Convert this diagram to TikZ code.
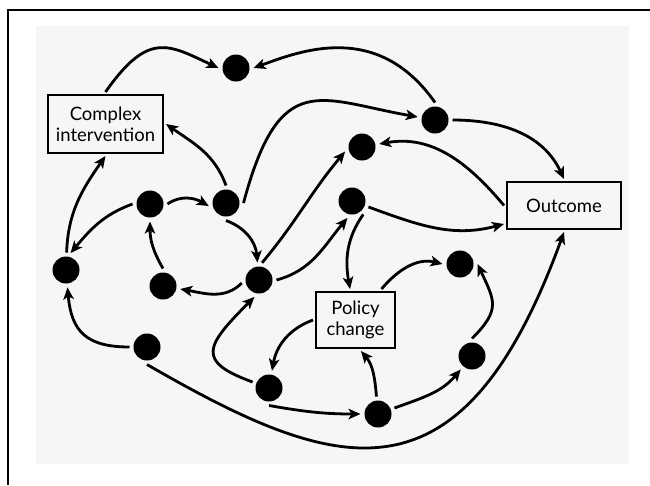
\documentclass[tikz,border=0pt]{standalone}
\usepackage{fontspec}
\setmainfont{Lato}
\usetikzlibrary{%
        arrows.meta
    }
\definecolor{canvas}{RGB}{246, 246, 246}
\tikzset{%
    dot/.style={%
        circle, fill=black, minimum size=27pt, inner sep=0pt, outer sep=4pt
    },
    box/.style={%
        draw=black, line width=2.8pt, fill=canvas, align=center,
        outer sep=3pt, font=\fontsize{18.5}{21}\selectfont
    },
    flow/.style={%
        line width=2.8pt, -{Stealth[length=12pt, width=10.5pt, inset=3pt]}
    }
}

\begin{document}
\begin{tikzpicture}[x=1pt, y=1pt]

    % Frame
    \useasboundingbox (0, 0) rectangle (650, -485);
    \fill[canvas] (36, -26) rectangle (629, -464);
    \draw[line width=2.5pt] (8, -485) -- (8, -10) -- (650, -10);

    % Boxes
    \node[box, minimum width=115pt, minimum height=58pt] (intervention)
        at (105.5, -124) {Complex\\intervention};
    \node[box, minimum width=114pt, minimum height=47pt] (outcome)
        at (564, -205.5) {Outcome};
    \node[box, minimum width=79pt, minimum height=56pt] (policy)
        at (355.5, -320) {Policy\\change};

    % Dots
    \node[dot] (top-dot) at (236, -68) {};
    \node[dot] (upper-dot) at (435, -120) {};
    \node[dot] (mid-dot) at (362, -147) {};
    \node[dot] (centre-dot) at (352, -201) {};
    \node[dot] (ring-nw) at (150, -204) {};
    \node[dot] (ring-ne) at (226, -203) {};
    \node[dot] (ring-sw) at (163, -286) {};
    \node[dot] (ring-se) at (259, -280) {};
    \node[dot] (left-dot) at (66, -270) {};
    \node[dot] (low-dot) at (147, -347) {};
    \node[dot] (p-top) at (460, -264) {};
    \node[dot] (p-right) at (472, -356) {};
    \node[dot] (p-left) at (269, -388) {};
    \node[dot] (p-base) at (378, -414) {};

    % Top arcs
    \draw[flow] (intervention.north)
        to [out=55, in=155, out distance=75pt, in distance=55pt]
        (top-dot.west);
    \draw[flow] (upper-dot.north)
        to [out=125, in=20, out distance=100pt, in distance=50pt]
        (top-dot.east);
    \draw[flow] (ring-ne.north) to [out=110, in=-35] (intervention.east);
    \draw[flow] (ring-ne.east)
        to [out=75, in=170, out distance=140pt, in distance=100pt]
        (upper-dot);

    % Towards the outcome
    \draw[flow] (upper-dot) to [out=0, in=115] (outcome.north);
    \draw[flow] (outcome.west) to [out=130, in=10] (mid-dot);
    \draw[flow] (centre-dot)
        to [out=-20, in=195] ([yshift=8pt] outcome.south west);
    \draw[flow] (low-dot.south)
        to [out=-30, in=-110, out distance=220pt, in distance=300pt]
        (outcome.south);

    % Ring on the left
    \draw[flow] (ring-nw.east) to [out=35, in=150] (ring-ne.190);
    \draw[flow] (ring-nw.west) to [out=200, in=50] (left-dot.75);
    \draw[flow] (left-dot) to [out=88, in=-125] (intervention.south);
    \draw[flow] (ring-sw.north) to [out=120, in=-90] (ring-nw.south);
    \draw[flow] (ring-ne.south) to [out=-20, in=95] (ring-se);
    \draw[flow] (ring-se.80) to [out=50, in=-130] (mid-dot.195);
    \draw[flow] (ring-se.east) to [out=15, in=-130] (centre-dot.-105);
    \draw[flow] (ring-se.190) to [out=-135, in=-10] (ring-sw);
    \draw[flow] (low-dot) to [out=180, in=-85, looseness=1.3] (left-dot);

    % Around the policy change
    \draw[flow] (centre-dot.-50) to [out=-125, in=100] (policy);
    \draw[flow] (policy) to [out=50, in=166] (p-top.west);
    \draw[flow] (policy.west) to [out=200, in=80] (p-left);
    \draw[flow] (p-left)
        to [out=160, in=-135, out distance=60pt, in distance=70pt]
        (ring-se.-105);
    \draw[flow] (p-left.south) to [out=-10, in=180] (p-base);
    \draw[flow] (p-base) to [out=95, in=-50] (policy.-80);
    \draw[flow] (p-base) to [out=20, in=-130] (p-right);
    \draw[flow] (p-right.north)
        to [out=45, in=-65, looseness=1.4] (p-top.east);

\end{tikzpicture}
\end{document}
